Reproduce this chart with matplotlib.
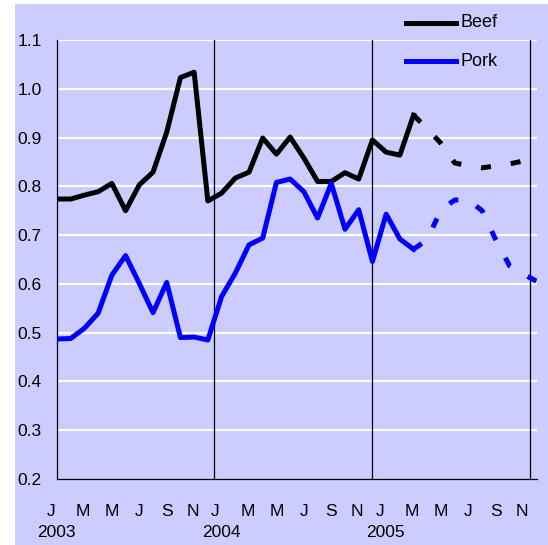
import matplotlib.pyplot as plt
from matplotlib.lines import Line2D
from matplotlib.patches import Rectangle

plt.rcParams["font.family"] = ["Liberation Sans", "DejaVu Sans"]

# monthly index, 0 = Jan 2003 ... 35 = Dec 2005
beef_actual = [0.774, 0.774, 0.782, 0.789, 0.806, 0.750, 0.803, 0.829, 0.911, 1.023,
               1.034, 0.770, 0.786, 0.817, 0.829, 0.899, 0.866, 0.901, 0.858, 0.810,
               0.810, 0.828, 0.815, 0.895, 0.870, 0.864, 0.946]
pork_actual = [0.487, 0.488, 0.509, 0.540, 0.618, 0.658, 0.601, 0.541, 0.603, 0.490,
               0.491, 0.485, 0.574, 0.622, 0.680, 0.694, 0.808, 0.815, 0.789, 0.735,
               0.806, 0.712, 0.752, 0.646, 0.743, 0.692, 0.671]
beef_forecast = [0.946, 0.918, 0.888, 0.848, 0.842, 0.838, 0.842, 0.846, 0.852, 0.860]
pork_forecast = [0.671, 0.691, 0.752, 0.772, 0.772, 0.750, 0.690, 0.637, 0.620, 0.605]

month_labels = ["J", "M", "M", "J", "S", "N"] * 3
year_labels = ["2003", "2004", "2005"]

lavender = "#CCCCFF"
fs = 12.5

fig = plt.figure(figsize=[5.48, 5.45], dpi=100)
fig.patch.set_facecolor("white")
fig.add_artist(Rectangle((15 / 548, 0), 1, 1 - 4 / 545, transform=fig.transFigure,
                         facecolor=lavender, edgecolor="none", zorder=0))

ax = fig.add_axes([57 / 548, 1 - 479 / 545, 480 / 548, 439 / 545])
ax.set_facecolor(lavender)

n_act = len(beef_actual)
x_act = list(range(n_act))
x_fc = list(range(n_act - 1, n_act - 1 + len(beef_forecast)))

for y in [0.3, 0.4, 0.5, 0.6, 0.7, 0.8, 0.9, 1.0, 1.1]:
    ax.axhline(y, color="white", lw=1.6, zorder=1)

# year separators
for xv in [11.46, 23.0, 34.52]:
    ax.axvline(xv, color="black", lw=0.9, zorder=2)

ax.plot(x_act, beef_actual, color="black", lw=3.6, zorder=3)
ax.plot(x_act, pork_actual, color="blue", lw=3.6, zorder=3)
ax.plot(x_fc, beef_forecast, color="black", lw=3.6, linestyle=(0, (2, 4)), zorder=3)
ax.plot(x_fc, pork_forecast, color="blue", lw=3.6, linestyle=(0, (2, 4)), zorder=3)

ax.set_xlim(0, 35)
ax.set_ylim(0.2, 1.1)
ax.set_yticks([0.2, 0.3, 0.4, 0.5, 0.6, 0.7, 0.8, 0.9, 1.0, 1.1])
ax.set_yticklabels([f"{v:.1f}" for v in ax.get_yticks()], fontsize=fs)
ax.tick_params(axis="y", length=0, pad=11)
ax.set_xticks([])

for side in ["top", "right"]:
    ax.spines[side].set_visible(False)
ax.spines["left"].set_linewidth(0.9)
ax.spines["bottom"].set_linewidth(0.9)

# month and year labels under the axis
offsets = [-0.45, -0.1, 0, 0, 0, -0.1]
trans = ax.get_xaxis_transform()
for i, lab in enumerate(month_labels):
    ax.text(2 * i + offsets[i % 6], -0.0743, lab, transform=trans, ha="center",
            va="center", fontsize=fs, clip_on=False)
for i, lab in enumerate(year_labels):
    ax.text(12 * i - 0.04, -0.122, lab, transform=trans, ha="center",
            va="center", fontsize=fs, clip_on=False)

# legend
for name, col, ypx in [("Beef", "black", 22.7), ("Pork", "blue", 61)]:
    yf = 1 - ypx / 545
    fig.add_artist(Line2D([406 / 548, 456 / 548], [yf, yf], color=col, lw=3.6,
                          transform=fig.transFigure))
    fig.text(460 / 548, yf, name, ha="left", va="center", fontsize=13)

plt.savefig("out.png", dpi=100)
